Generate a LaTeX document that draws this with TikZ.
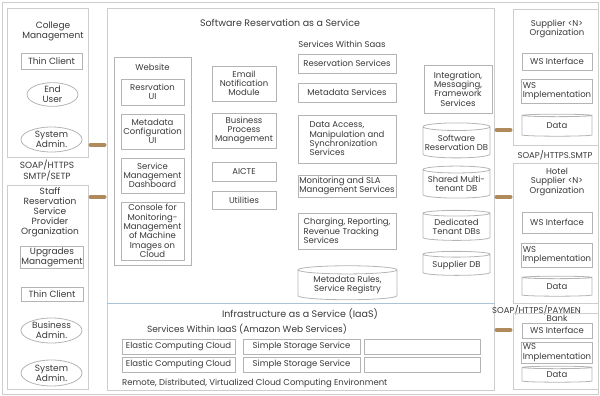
\documentclass[tikz,border=0pt]{standalone}
\usepackage{fontspec}
\setmainfont{Poppins}
\usetikzlibrary{shapes.geometric}
\definecolor{ink}{HTML}{383838}
\definecolor{edgegray}{HTML}{B4B4B4}
\definecolor{framegray}{HTML}{CDCDCD}
\definecolor{linkbrown}{HTML}{B08A5C}
\definecolor{iaasblue}{HTML}{A8C4DA}
\begin{document}
\begin{tikzpicture}[x=1pt,y=-1pt,
  every node/.style={font=\fontsize{8.5}{9.3}\selectfont,text=ink,inner sep=1pt,align=center},
  side/.style={font=\fontsize{9}{10}\selectfont},
  heading/.style={font=\fontsize{9.5}{11}\selectfont},
  panel/.style 2 args={draw=framegray,line width=1pt,minimum width=#1,minimum height=#2,inner sep=0pt},
  module/.style 2 args={draw=edgegray,line width=0.8pt,minimum width=#1,minimum height=#2},
  actor/.style 2 args={ellipse,draw=edgegray,line width=0.8pt,minimum width=#1,minimum height=#2,inner sep=0pt},
  store/.style 2 args={cylinder,shape border rotate=90,aspect=0.12,draw=edgegray,line width=0.8pt,minimum width=#1,minimum height=#2,inner sep=0pt},
  link/.style={draw=linkbrown,line width=4pt,line cap=round,shorten <=2pt,shorten >=2pt}]
 \useasboundingbox (0,0) rectangle (600,396);
 \draw[framegray,line width=0.8pt] (2,2) rectangle (598,394);
 % left: clients
 \node[panel={81}{148}] (college) at (47.5,83) {};
 \node[side] (collegetitle) at (53,31) {College\\Management};
 \node[side,module={61}{16}] (thinA) at (51.5,61) {Thin Client};
 \node[side,actor={51}{23}] (enduser) at (52.5,94.5) {End\\User};
 \node[side,actor={61}{25}] (sysadminA) at (51.5,139.5) {System\\Admin.};
 \node[side] (proto1) at (47,171) {SOAP/HTTPS\\SMTP/SETP};
 \node[panel={81}{204}] (staff) at (47.5,287) {};
 \node[side] (stafftitle) at (50,212.5) {Staff\\Reservation\\Service\\Provider\\Organization};
 \node[side,module={62}{22}] (upgrades) at (52,257.5) {Upgrades\\Management};
 \node[side,module={62}{14}] (thinB) at (52,294) {Thin Client};
 \node[side,actor={61}{25}] (busadmin) at (51.5,330.5) {Business\\Admin.};
 \node[side,actor={61}{26}] (sysadminB) at (51.5,373) {System\\Admin.};
 % centre: SaaS and IaaS
 \node[panel={387}{381}] (saas) at (300.5,199.5) {};
 \node[heading] (saastitle) at (280,23) {Software Reservation as a Service};
 \node (saassub) at (342,44) {Services Within Saas};
 \node[module={77}{208}] (website) at (152.5,161) {};
 \node (websitetitle) at (152.5,67) {Website};
 \node[module={63}{26}] (resui) at (152.5,92) {Resrvation\\UI};
 \node[module={63}{35}] (metaui) at (152.5,131.5) {Metadata\\Configuration\\UI};
 \node[module={63}{35}] (svcdash) at (152.5,175.5) {Service\\Management\\Dashboard};
 \node[module={63}{58}] (console) at (152.5,231) {Console for\\Monitoring-\\Management\\of Machine\\Images on\\Cloud};
 \node[module={64}{35}] (email) at (244,83.5) {Email\\Notification\\Module};
 \node[module={64}{35}] (bpm) at (244,130.5) {Business\\Process\\Management};
 \node[module={64}{19}] (aicte) at (244,171.5) {AICTE};
 \node[module={64}{18}] (utilities) at (244,200) {Utilities};
 \node[module={98}{19}] (ressvc) at (347,63.5) {Reservation Services};
 \node[module={98}{19}] (metasvc) at (347,92.5) {Metadata Services};
 \node[module={98}{48},align=left] (dataacc) at (347,139) {Data Access,\\Manipulation and\\Synchronization\\Services};
 \node[module={98}{22},align=left] (monitor) at (347,186) {Monitoring and SLA\\Management Services};
 \node[module={98}{36},align=left] (charging) at (347,231) {Charging, Reporting,\\Revenue Tracking\\Services};
 \node[store={99}{34}] (metarules) at (347.5,285) {Metadata Rules,\\Service Registry};
 \node[module={68}{48}] (integ) at (458,89) {Integration,\\Messaging,\\Framework\\Services};
 \node[store={67}{35}] (swdb) at (456.5,142.5) {Software\\Reservation DB};
 \node[store={67}{32}] (shareddb) at (456.5,184) {Shared Multi-\\tenant DB};
 \node[store={67}{30}] (dedicdb) at (456.5,227) {Dedicated\\Tenant DBs};
 \node[store={67}{24}] (supdb) at (456.5,265) {Supplier DB};
 \draw[iaasblue,line width=0.8pt] (saas.west |- 0,303) -- (saas.east |- 0,303);
 \node[heading] (iaastitle) at (300,314) {Infrastructure as a Service (IaaS)};
 \node[font=\fontsize{9}{10}\selectfont] (iaassub) at (247,329) {Services Within IaaS (Amazon Web Services)};
 \node[module={113}{15}] (ecA) at (178.5,346.5) {Elastic Computing Cloud};
 \node[module={117}{15}] (sssA) at (301.5,346.5) {Simple Storage Service};
 \node[module={116}{15}] (spareA) at (422,346.5) {};
 \node[module={113}{15}] (ecB) at (178.5,364.5) {Elastic Computing Cloud};
 \node[module={117}{15}] (sssB) at (301.5,364.5) {Simple Storage Service};
 \node[module={116}{15}] (spareB) at (422,364.5) {};
 \node[anchor=west] (cloudenv) at (121,383) {Remote, Distributed, Virtualized Cloud Computing Environment};
 % right: suppliers
 \node[panel={85}{135}] (supplier) at (555.5,77.5) {};
 \node (suppliertitle) at (557,29) {Supplier <N>\\Organization};
 \node[module={70}{17}] (wsiA) at (557,61.5) {WS Interface};
 \node[module={70}{24},align=left] (wsimpA) at (557,91) {WS\\Implementation};
 \node[store={70}{22}] (dataA) at (557,126) {Data};
 \node (proto2) at (555,155) {SOAP/HTTPS.SMTP};
 \node[panel={85}{140}] (hotel) at (555.5,233) {};
 \node (hoteltitle) at (557,182) {Hotel\\Supplier <N>\\Organization};
 \node[module={70}{21}] (wsiB) at (557,222.5) {WS Interface};
 \node[module={70}{24},align=left] (wsimpB) at (557,255) {WS\\Implementation};
 \node[store={70}{20}] (dataB) at (557,287) {Data};
 \node[anchor=west] (proto3) at (491,310) {SOAP/HTTPS/PAYMEN};
 \node[panel={85}{76}] (bank) at (555.5,351) {};
 \node (banktitle) at (557,318) {Bank};
 \node[module={70}{15}] (wsiC) at (557,330.5) {WS Interface};
 \node[module={70}{21},align=left] (wsimpC) at (557,352.5) {WS\\Implementation};
 \node[store={70}{16}] (dataC) at (557,375) {Data};
 % connectors
 \coordinate (yA) at (0,145);
 \coordinate (yB) at (0,197);
 \coordinate (yC) at (0,130);
 \coordinate (yD) at (0,330);
 \draw[link] (college.east |- yA) -- (saas.west |- yA);
 \draw[link] (staff.east |- yB) -- (saas.west |- yB);
 \draw[link] (saas.east |- yC) -- (supplier.west |- yC);
 \draw[link] (saas.east |- yB) -- (hotel.west |- yB);
 \draw[link] (saas.east |- yD) -- (bank.west |- yD);
\end{tikzpicture}
\end{document}
